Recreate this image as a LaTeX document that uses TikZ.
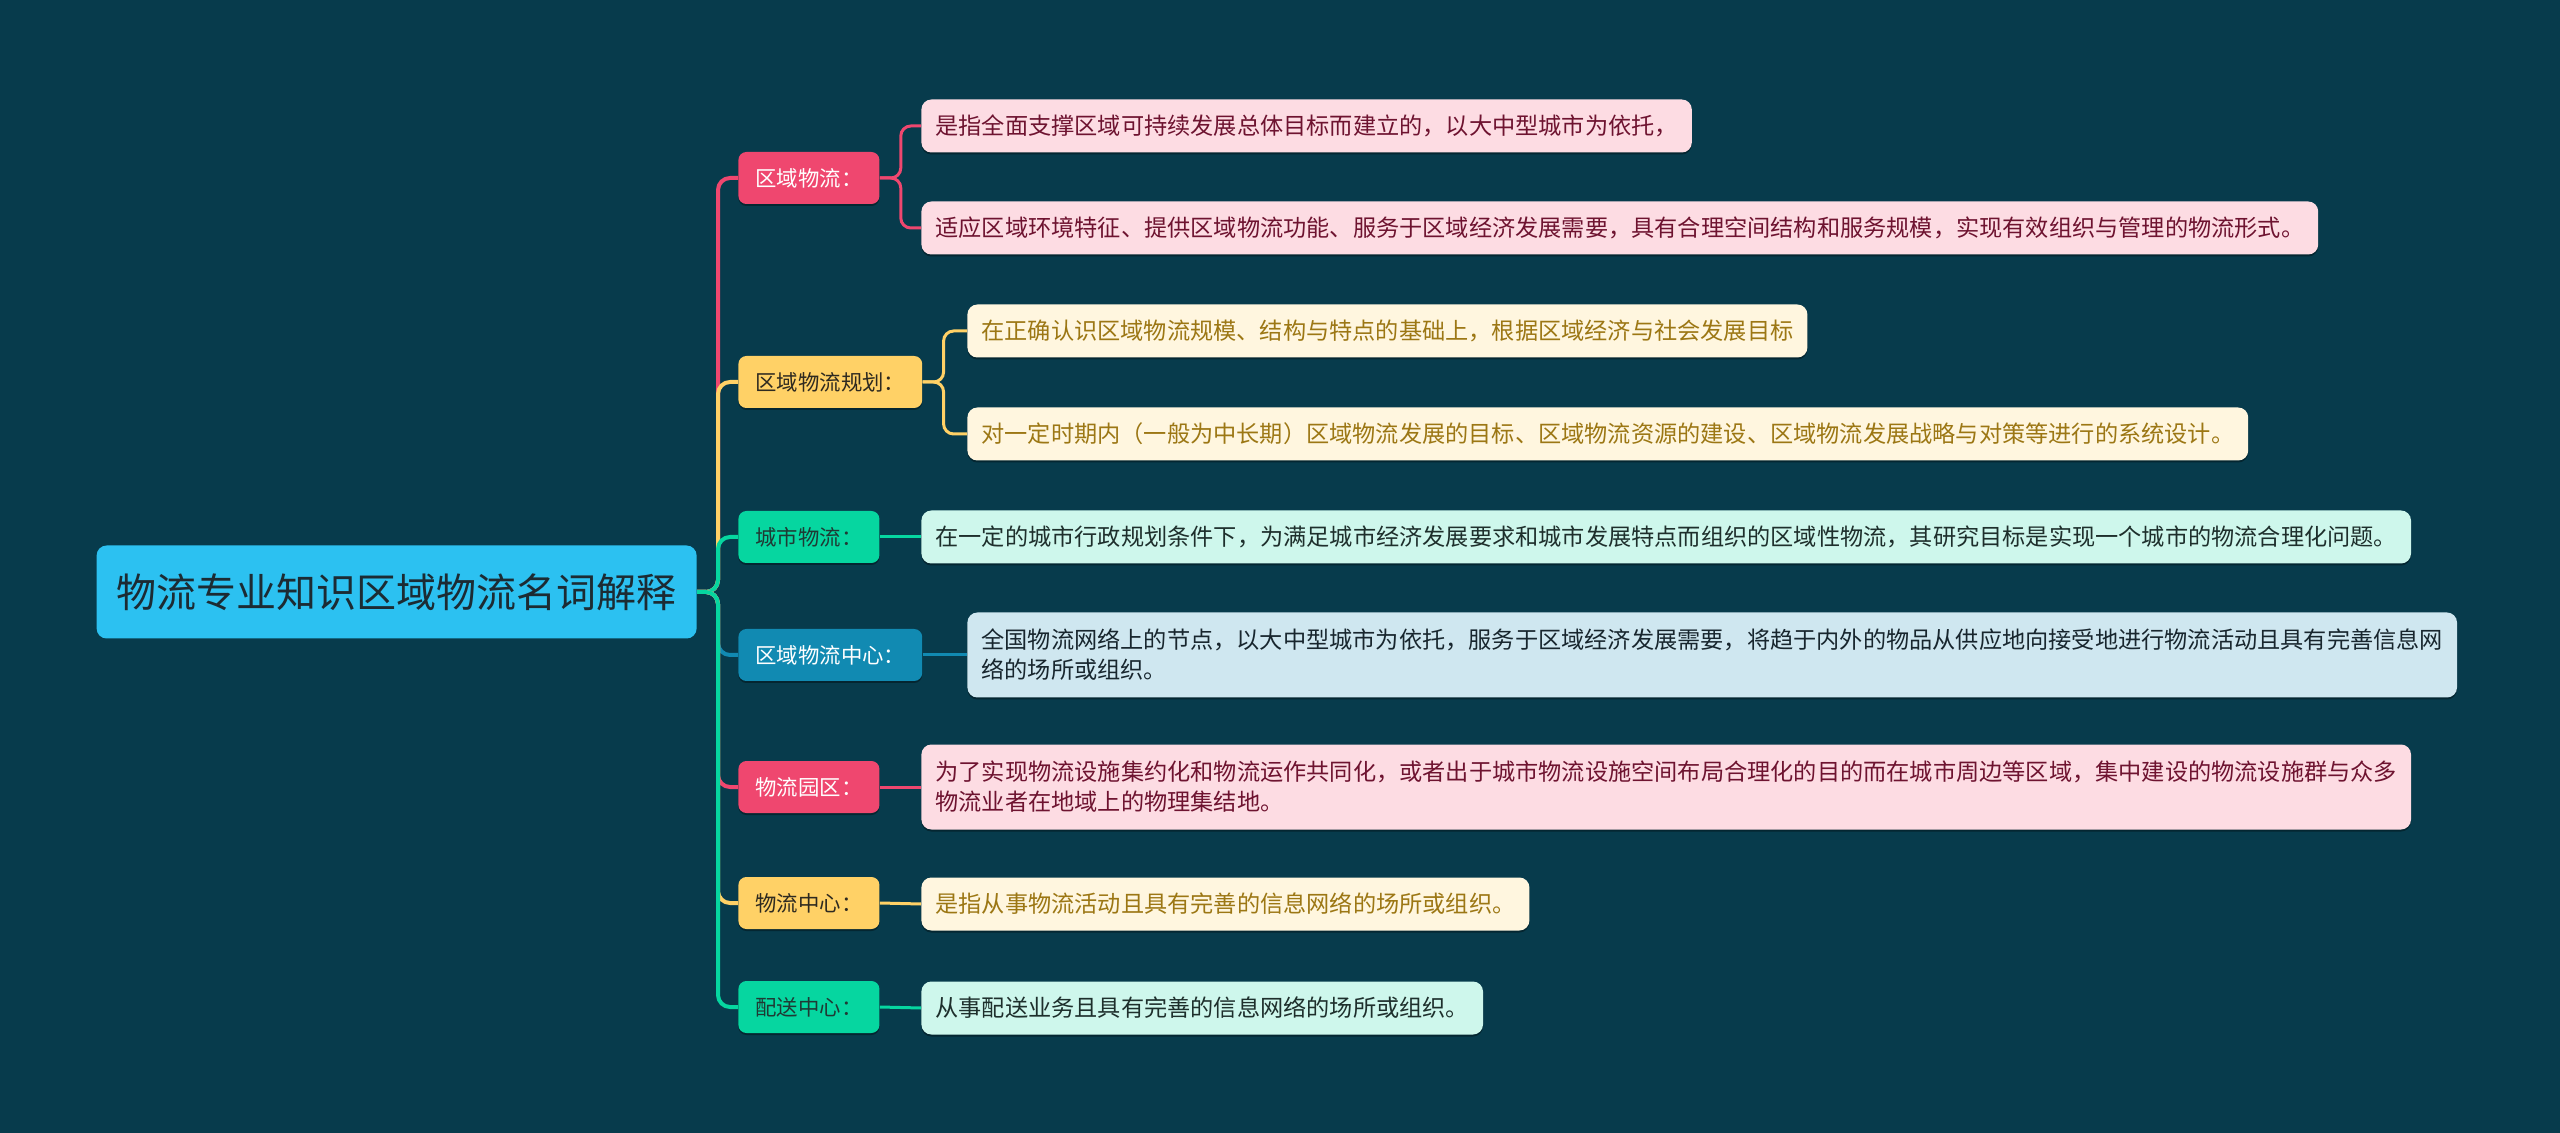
\documentclass[tikz,border=0pt]{standalone}
\usepackage{fontspec}
\newfontfamily\cjk{Noto Sans CJK SC}
\usetikzlibrary{shadows}
\definecolor{bg}{HTML}{073B4C}
\definecolor{cred}{HTML}{EF476F}
\definecolor{cyel}{HTML}{FFD166}
\definecolor{cgrn}{HTML}{06D6A0}
\definecolor{cblu}{HTML}{118AB2}
\definecolor{croot}{HTML}{2CC1F1}
\definecolor{roottext}{HTML}{1C2B33}
\definecolor{lred}{HTML}{FDDCE3}
\definecolor{lyel}{HTML}{FFF6DF}
\definecolor{lgrn}{HTML}{CEF7EC}
\definecolor{lblu}{HTML}{CFE7F0}
\definecolor{tred}{HTML}{6E1330}
\definecolor{tyel}{HTML}{9C7714}
\definecolor{tdark}{HTML}{1E2F2C}
\definecolor{tblu}{HTML}{18262E}
\definecolor{ldark}{HTML}{2E2A20}
\definecolor{lgdark}{HTML}{1F3A34}
\begin{document}
\begin{tikzpicture}[x=0.5pt,y=-0.5pt,
  rootbox/.style={fill=croot, rounded corners=5pt, minimum height=46.5pt, inner xsep=10pt,
    font=\cjk\fontsize{20}{24}\selectfont, text=roottext, anchor=east},
  lone/.style={rounded corners=4pt, minimum height=26pt, inner xsep=8.5pt,
    font=\cjk\fontsize{10.7}{13}\selectfont, anchor=west,
    drop shadow={shadow xshift=0pt, shadow yshift=-1pt, opacity=0.35, fill=black}},
  ltwo/.style={rounded corners=5pt, minimum height=26.5pt, inner xsep=7pt,
    font=\cjk\fontsize{11.6}{15}\selectfont, anchor=west, align=left,
    drop shadow={shadow xshift=0pt, shadow yshift=-1pt, opacity=0.35, fill=black}},
  tall/.style={minimum height=42.5pt},
  spine/.style={line width=2pt, rounded corners=6pt},
  twig/.style={line width=1.5pt, rounded corners=5pt},
]
\fill[bg] (0,0) rectangle (2560,1133);
\useasboundingbox (0,0) rectangle (2560,1133);

\node[rootbox] (root) at (697,592) {物流专业知识区域物流名词解释};

\node[lone, fill=cred, text=white] (a) at (738,178) {区域物流：};
\node[lone, fill=cyel, text=ldark] (b) at (738,382) {区域物流规划：};
\node[lone, fill=cgrn, text=lgdark] (c) at (738,537) {城市物流：};
\node[lone, fill=cblu, text=white] (d) at (738,655) {区域物流中心：};
\node[lone, fill=cred, text=white] (e) at (738,787) {物流园区：};
\node[lone, fill=cyel, text=ldark] (f) at (738,903) {物流中心：};
\node[lone, fill=cgrn, text=lgdark] (g) at (738,1007) {配送中心：};

\node[ltwo, fill=lred, text=tred] (a1) at (921,126) {是指全面支撑区域可持续发展总体目标而建立的，以大中型城市为依托，};
\node[ltwo, fill=lred, text=tred] (a2) at (921,228) {适应区域环境特征、提供区域物流功能、服务于区域经济发展需要，具有合理空间结构和服务规模，实现有效组织与管理的物流形式。};
\node[ltwo, fill=lyel, text=tyel] (b1) at (967,331) {在正确认识区域物流规模、结构与特点的基础上，根据区域经济与社会发展目标};
\node[ltwo, fill=lyel, text=tyel] (b2) at (967,434) {对一定时期内（一般为中长期）区域物流发展的目标、区域物流资源的建设、区域物流发展战略与对策等进行的系统设计。};
\node[ltwo, fill=lgrn, text=tdark] (c1) at (921,537) {在一定的城市行政规划条件下，为满足城市经济发展要求和城市发展特点而组织的区域性物流，其研究目标是实现一个城市的物流合理化问题。};
\node[ltwo, tall, fill=lblu, text=tblu] (d1) at (967,655) {全国物流网络上的节点，以大中型城市为依托，服务于区域经济发展需要，将趋于内外的物品从供应地向接受地进行物流活动且具有完善信息网\\络的场所或组织。};
\node[ltwo, tall, fill=lred, text=tred] (e1) at (921,787) {为了实现物流设施集约化和物流运作共同化，或者出于城市物流设施空间布局合理化的目的而在城市周边等区域，集中建设的物流设施群与众多\\物流业者在地域上的物理集结地。};
\node[ltwo, fill=lyel, text=tyel] (f1) at (921,904) {是指从事物流活动且具有完善的信息网络的场所或组织。};
\node[ltwo, fill=lgrn, text=tdark] (g1) at (921,1008) {从事配送业务且具有完善的信息网络的场所或组织。};

% root to level one
\draw[spine, cred] (root.east) -- ++(21,0) |- (a.west);
\draw[spine, cyel] (root.east) -- ++(21,0) |- (b.west);
\draw[spine, cgrn] (root.east) -- ++(21,0) |- (c.west);
\draw[spine, cblu] (root.east) -- ++(21,0) |- (d.west);
\draw[spine, cred] (root.east) -- ++(21,0) |- (e.west);
\draw[spine, cyel] (root.east) -- ++(21,0) |- (f.west);
\draw[spine, cgrn] (root.east) -- ++(21,0) |- (g.west);

% level one to level two
\draw[twig, cred] (a.east) -- ++(21,0) |- (a1.west);
\draw[twig, cred] (a.east) -- ++(21,0) |- (a2.west);
\draw[twig, cyel] (b.east) -- ++(21,0) |- (b1.west);
\draw[twig, cyel] (b.east) -- ++(21,0) |- (b2.west);
\draw[twig, cgrn] (c.east) -- (c1.west);
\draw[twig, cblu] (d.east) -- (d1.west);
\draw[twig, cred] (e.east) -- (e1.west);
\draw[twig, cyel] (f.east) -- (f1.west);
\draw[twig, cgrn] (g.east) -- (g1.west);
\end{tikzpicture}
\end{document}
